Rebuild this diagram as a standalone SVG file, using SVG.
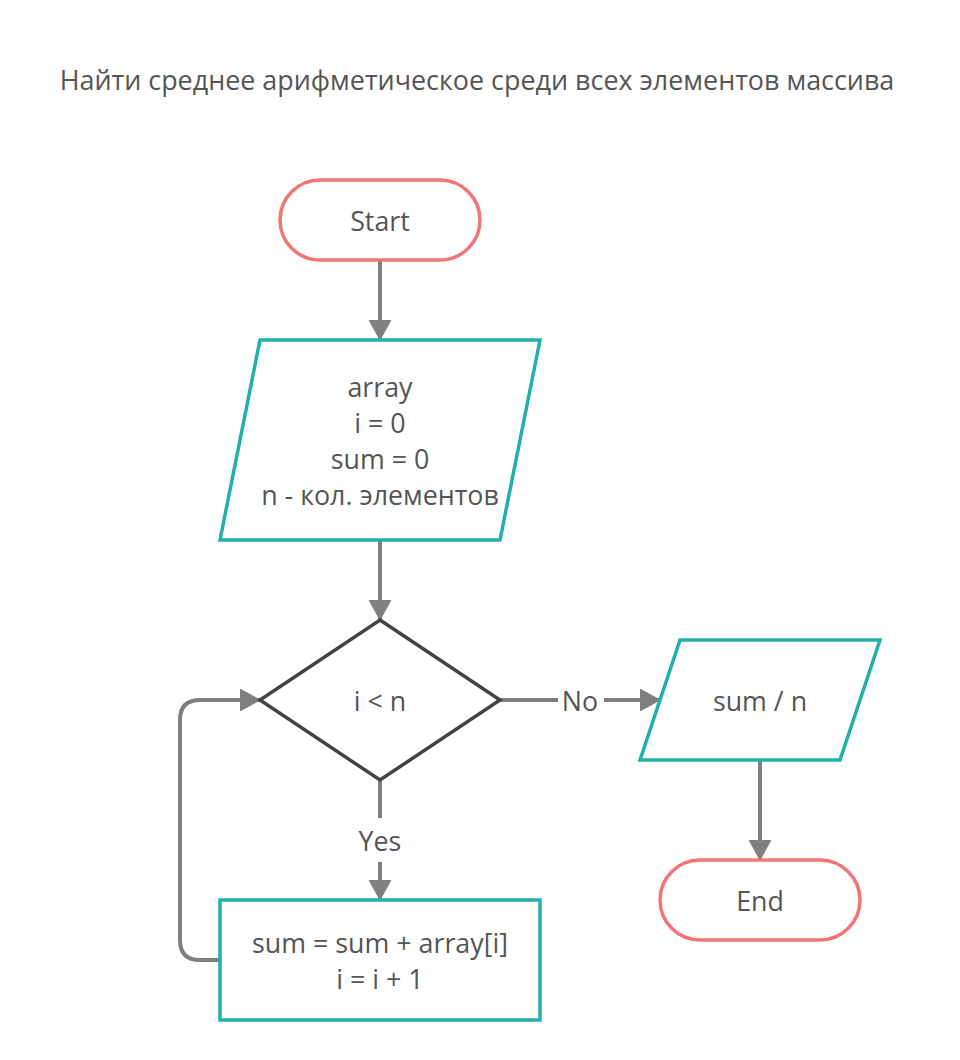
<svg xmlns="http://www.w3.org/2000/svg" width="960" height="1060" viewBox="0 0 960 1060">
<defs>
<marker id="ah" markerWidth="26" markerHeight="22" refX="20" refY="11" orient="auto" markerUnits="userSpaceOnUse">
<path d="M0,0 L20,11 L0,22 Z" fill="#7f7f7f" stroke="#7f7f7f" stroke-width="1" stroke-linejoin="round"/>
</marker>
<style>
text{font-family:"Open Sans","Liberation Sans",sans-serif;fill:#555;text-anchor:middle;dominant-baseline:central}
.t{font-size:26.8px}
.term{fill:#fff;stroke:#f47575;stroke-width:3.5}
.io{fill:#fff;stroke:#22b0ab;stroke-width:3.5}
.dec{fill:#fff;stroke:#444;stroke-width:3.5}
.c{fill:none;stroke:#7f7f7f;stroke-width:4}
.lbl{fill:#555;font-size:26.8px}
</style>
</defs>
<rect width="960" height="1060" fill="#fff"/>
<text x="477" y="79" style="font-size:26.9px;fill:#555">Найти среднее арифметическое среди всех элементов массива</text>
<g id="connectors">
<path class="c" d="M380,260 V340" marker-end="url(#ah)"/>
<path class="c" d="M380,540 V620" marker-end="url(#ah)"/>
<path class="c" d="M500,700 H558"/>
<path class="c" d="M604,700 H660" marker-end="url(#ah)"/>
<path class="c" d="M760,760 V860" marker-end="url(#ah)"/>
<path class="c" d="M380,780 V818"/>
<path class="c" d="M380,862 V900" marker-end="url(#ah)"/>
<path class="c" d="M220,960 H200 Q180,960 180,940 V720 Q180,700 200,700 H260" marker-end="url(#ah)"/>
<text class="lbl" x="580" y="700">No</text>
<text class="lbl" x="380" y="840">Yes</text>
</g>
<g id="start">
<rect class="term" x="280" y="180" width="200" height="80" rx="40"/>
<text class="t" x="380" y="220">Start</text>
</g>
<g id="input">
<polygon class="io" points="260,340 540,340 500,540 220,540"/>
<text class="t" x="380" y="386">array</text>
<text class="t" x="380" y="422">i = 0</text>
<text class="t" x="380" y="458">sum = 0</text>
<text class="t" x="380" y="494">n - кол. элементов</text>
</g>
<g id="cond">
<polygon class="dec" points="380,620 500,700 380,780 260,700"/>
<text class="t" x="380" y="700">i &lt; n</text>
</g>
<g id="output">
<polygon class="io" points="680,640 880,640 840,760 640,760"/>
<text class="t" x="760" y="700">sum / n</text>
</g>
<g id="end">
<rect class="term" x="660" y="860" width="200" height="80" rx="40"/>
<text class="t" x="760" y="900">End</text>
</g>
<g id="process">
<rect class="io" x="220" y="900" width="320" height="120"/>
<text class="t" x="380" y="942">sum = sum + array[i]</text>
<text class="t" x="380" y="978">i = i + 1</text>
</g>
</svg>
